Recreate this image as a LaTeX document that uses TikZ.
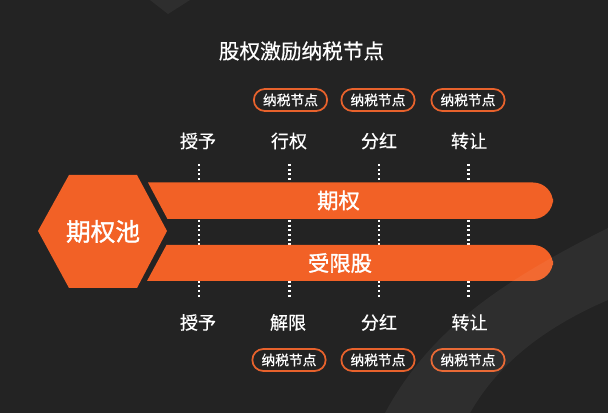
\documentclass[tikz,border=0pt]{standalone}
\usepackage{fontspec}
\setmainfont{Noto Sans CJK SC}
\newfontfamily\cjkheavy[FakeBold=1.3]{Noto Sans CJK SC}
\newfontfamily\cjkmed[FakeBold=0.5]{Noto Sans CJK SC}
\usetikzlibrary{shapes.misc}
\definecolor{bgc}{HTML}{232323}
\definecolor{orng}{HTML}{F26126}
\definecolor{pillb}{HTML}{E8622C}
\tikzset{
  titletxt/.style={text=white,font=\cjkmed\fontsize{15.5pt}{18pt}\selectfont,inner sep=0pt},
  lbl/.style={text=white,font=\cjkmed\fontsize{13.5pt}{16pt}\selectfont,inner sep=0pt},
  bartxt/.style={text=white,font=\cjkheavy\fontsize{16pt}{19pt}\selectfont,inner sep=0pt},
  hextxt/.style={text=white,font=\cjkheavy\fontsize{18.5pt}{21pt}\selectfont,inner sep=0pt},
  pill/.style={rounded rectangle,draw=pillb,line width=1.3pt,fill=bgc,text=white,
    minimum width=55pt,minimum height=16.5pt,inner sep=0pt,
    font=\cjkmed\fontsize{10.3pt}{12pt}\selectfont},
  dotline/.style={draw=white,line width=1.6pt,dash pattern=on 1.4pt off 2.1pt},
  shapefill/.style={fill=orng},
  wmark/.style={fill=white,fill opacity=0.05}
}
\begin{document}
\begin{tikzpicture}[x=0.75pt,y=-0.75pt]
\fill[bgc] (0,0) rectangle (608,413);
\useasboundingbox (0,0) rectangle (608,413);

% title
\node[titletxt] (title) at (301.5,51) {股权激励纳税节点};

% dotted columns
\foreach \n/\x in {a/199,b/289.5,c/379,d/468.5}{
  \coordinate (dt\n) at (\x,164);
  \coordinate (db\n) at (\x,298);
  \draw[dotline] (dt\n) -- (db\n);
}

% hexagon
\fill[shapefill] (38,231) -- (69,175) -- (137,175) -- (167,231) -- (137,288) -- (69,288) -- cycle;
\node[hextxt] (pool) at (103,231.5) {期权池};

% bars
\fill[shapefill] (148,182.5) -- (400,182.5) [rounded corners=15] -- (553,182.5) -- (553,219) -- (400,219) [sharp corners] -- (167.5,219) -- cycle;
\fill[shapefill] (166.5,245) -- (400,245) [rounded corners=15] -- (553,245) -- (553,281) -- (400,281) [sharp corners] -- (147,281) -- cycle;
\node[bartxt] (opt) at (338.5,200.5) {期权};
\node[bartxt] (rs) at (340,263) {受限股};

% top labels
\node[lbl] (t1) at (198,141) {授予};
\node[lbl] (t2) at (289,141) {行权};
\node[lbl] (t3) at (379,141) {分红};
\node[lbl] (t4) at (469,141) {转让};
% bottom labels
\node[lbl] (b1) at (198,322.5) {授予};
\node[lbl] (b2) at (288,322.5) {解限};
\node[lbl] (b3) at (379,322.5) {分红};
\node[lbl] (b4) at (469.5,322.5) {转让};

% pills
\node[pill] (p2) at (290.5,100) {纳税节点};
\node[pill] (p3) at (378,100) {纳税节点};
\node[pill] (p4) at (468,100) {纳税节点};
\node[pill] (q2) at (289,360) {纳税节点};
\node[pill] (q3) at (378,360) {纳税节点};
\node[pill] (q4) at (468,360) {纳税节点};

% faint watermark shapes
\fill[wmark] (150,0) -- (190,0) -- (168,14) -- cycle;
\fill[wmark] (385,413) .. controls (430,330) and (500,282) .. (608,228) -- (608,300) .. controls (550,325) and (500,360) .. (470,413) -- cycle;
\end{tikzpicture}
\end{document}
